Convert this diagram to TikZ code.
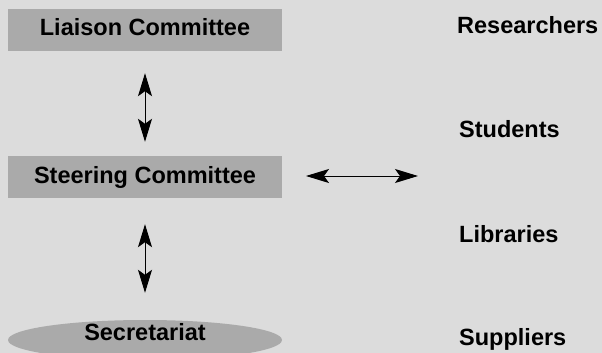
\documentclass[tikz,border=0pt]{standalone}
\usepackage{fontspec}
\setmainfont{Liberation Sans}
\usetikzlibrary{arrows.meta,shapes.geometric}
\definecolor{bgc}{RGB}{220,220,220}
\definecolor{boxc}{RGB}{170,170,170}
\begin{document}
\begin{tikzpicture}[x=1pt,y=1pt,
  lbl/.style={font=\fontsize{23.5}{26}\selectfont\bfseries, text=black},
  boxnode/.style={lbl, fill=boxc, draw=none, minimum width=274pt, minimum height=42pt, inner sep=0pt, text height=17pt, text depth=5pt},
  arr/.style={line width=1pt, {Stealth[length=23pt,width=14pt,inset=5pt]}-{Stealth[length=23pt,width=14pt,inset=5pt]}},
  side/.style={lbl, anchor=base west, inner sep=0pt}]
\fill[bgc] (0,0) rectangle (602,-353);
\useasboundingbox (0,0) rectangle (602,-353);
\node[boxnode] (liaison) at (145,-30) {Liaison Committee};
\node[boxnode] (steer) at (145,-177) {Steering Committee};
\begin{scope}
\clip (0,0) rectangle (602,-353);
\node[ellipse, fill=boxc, minimum width=274pt, minimum height=40pt, inner sep=0pt] (sec) at (145,-340) {};
\end{scope}
\node[lbl, anchor=base] (sectext) at (145,-340) {Secretariat};
\node[side] (res) at (457,-34) {Researchers};
\node[side] (stu) at (459,-137) {Students};
\node[side] (lib) at (459,-242) {Libraries};
\node[side] (sup) at (459,-345) {Suppliers};
\draw[arr, shorten <=22pt, shorten >=14pt] (liaison.south) -- (steer.north);
\draw[arr, shorten <=26pt, shorten >=27pt] (steer.south) -- (sec.north);
\coordinate (hl) at (306,-176);
\coordinate (hr) at (418,-176);
\draw[arr] (hl) -- (hr);
\end{tikzpicture}
\end{document}
